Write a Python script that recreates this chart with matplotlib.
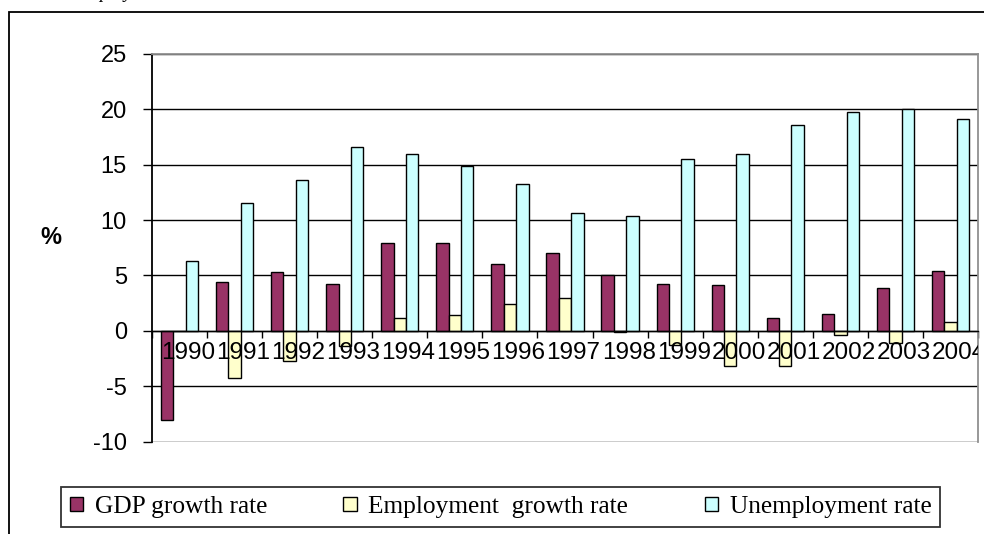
import numpy as np
import matplotlib
matplotlib.use("Agg")
import matplotlib.pyplot as plt
from matplotlib.patches import Rectangle
from matplotlib.transforms import offset_copy

years = [str(y) for y in range(1990, 2005)]
gdp_growth = [-8.1, 4.4, 5.3, 4.2, 7.9, 7.9, 6.0, 7.0, 5.0, 4.2, 4.1, 1.2, 1.5, 3.9, 5.4]
emp_growth = [0.0, -4.3, -2.7, -1.4, 1.2, 1.4, 2.4, 3.0, -0.1, -1.3, -3.2, -3.2, -0.4, -1.1, 0.8]
unemp_rate = [6.3, 11.5, 13.6, 16.6, 16.0, 14.9, 13.3, 10.6, 10.4, 15.5, 16.0, 18.6, 19.8, 20.0, 19.1]
series_names = ["GDP growth rate", "Employment  growth rate", "Unemployment rate"]
series_colors = ["#993366", "#FFFFCC", "#CCFFFF"]
y_ticks = [-10, -5, 0, 5, 10, 15, 20, 25]

W, H = 984, 534
fig = plt.figure(figsize=(W / 100, H / 100), dpi=100)
fig.patch.set_facecolor("white")

# outer chart frame (runs off the right and bottom edges)
fig.patches.append(Rectangle((9 / W, -0.1), 1.2, 1.1 - 12 / H, transform=fig.transFigure,
                             fill=False, edgecolor="black", linewidth=1.3))

# document text above the chart, cut by the page edge
fig.text(75 / W, 1 + 1.5 / H, "Employment", family="Liberation Serif", style="italic",
         fontsize=13.5, va="baseline", ha="left")

ax = fig.add_axes([152 / W, 1 - 441.5 / H, (978 - 152) / W, (441.5 - 54) / H])
ax.set_facecolor("white")

x = np.arange(len(years))
bw = 0.225
for k, (vals, name, col) in enumerate(zip([gdp_growth, emp_growth, unemp_rate],
                                          series_names, series_colors)):
    ax.bar(x + (k - 1) * bw, vals, width=bw, color=col, edgecolor="black",
           linewidth=1.0, label=name, zorder=3)

ax.set_xlim(-0.5, len(years) - 0.5)
ax.set_ylim(-10, 25)
ax.set_yticks(y_ticks, [str(t) for t in y_ticks], family="Liberation Sans", fontsize=17)
ax.tick_params(axis="y", direction="out", length=6.5, width=1.0, pad=11.5, color="black")
ax.yaxis.grid(True, color="black", linewidth=1.0, zorder=1)
ax.set_axisbelow(True)

ax.spines["bottom"].set_position(("data", 0))
ax.spines["bottom"].set_color("black")
ax.spines["bottom"].set_linewidth(1.0)
ax.spines["bottom"].set_zorder(4)
ax.spines["left"].set_color("black")
ax.spines["left"].set_linewidth(1.3)
for s in ("top", "right"):
    ax.spines[s].set_color("#909090")
    ax.spines[s].set_linewidth(1.3)

ax.set_xticks([])
ax.set_xticks(np.arange(-0.5, len(years)), minor=True)
ax.tick_params(axis="x", which="minor", direction="out", length=5, width=1.0, color="black")

# year labels sit just under the zero line, drawn over the bars and clipped at the plot edge
lbl_tr = offset_copy(ax.transData, fig=fig, x=8.5, y=-11, units="dots")
for i, yr in enumerate(years):
    ax.text(i, 0, yr, transform=lbl_tr, ha="center", va="top", family="Liberation Sans",
            fontsize=17.5, zorder=6, clip_on=True)

fig.text(51 / W, 1 - 237.5 / H, "%", family="Liberation Sans", fontweight="bold",
         fontsize=17, ha="center", va="center")

leg = fig.legend(loc="center", bbox_to_anchor=(500.5 / W, 1 - 507 / H), ncol=3,
                 prop={"family": "Liberation Serif", "size": 18.3},
                 handlelength=0.52, handleheight=0.52, handletextpad=0.47,
                 columnspacing=3.0, borderpad=0.35, fancybox=False, frameon=True)
leg.get_frame().set_edgecolor("black")
leg.get_frame().set_linewidth(1.3)

fig.savefig("out.png", dpi=100)
